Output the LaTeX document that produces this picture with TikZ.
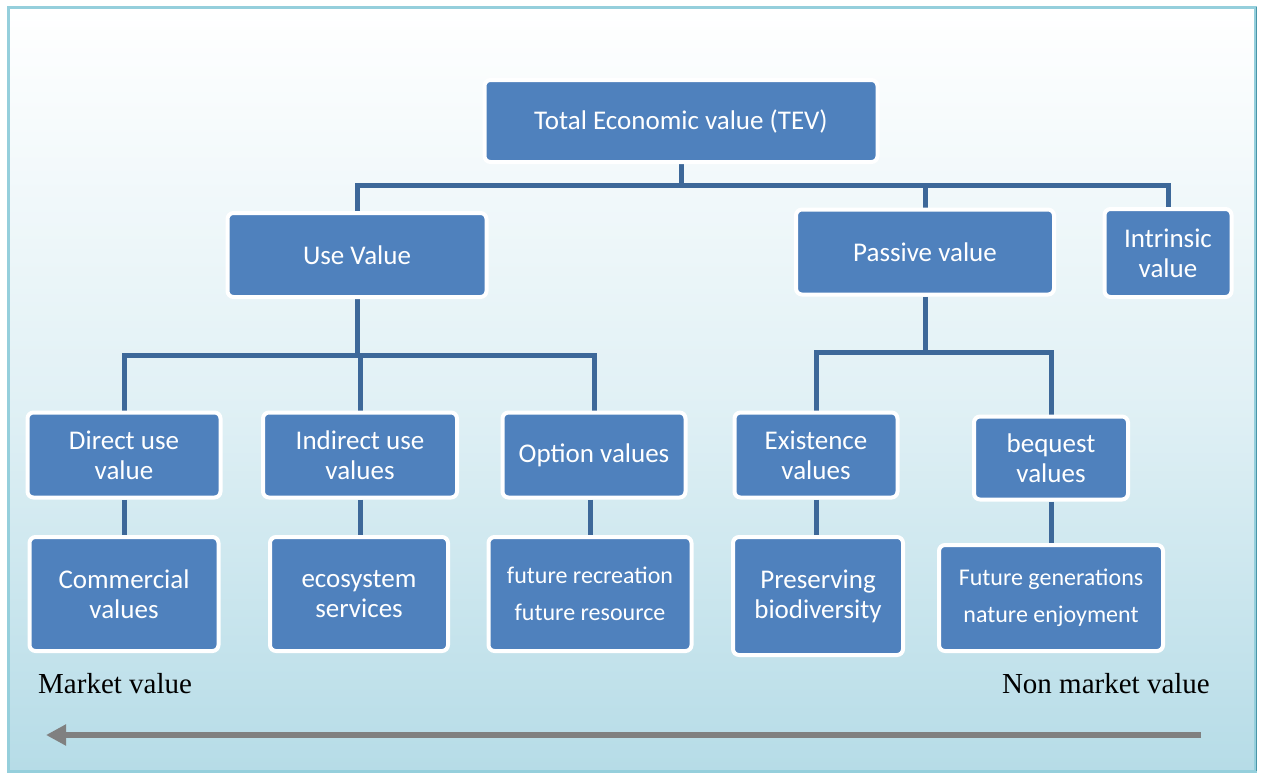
\documentclass[tikz,border=0pt]{standalone}
\usepackage{fontspec}
\setmainfont{Liberation Serif}
\newfontfamily\boxfont{Carlito}
\usetikzlibrary{arrows.meta}
\definecolor{boxblue}{HTML}{4F81BD}
\definecolor{linkblue}{HTML}{3D6899}
\definecolor{frameblue}{HTML}{95CFDC}
\definecolor{frameedge}{HTML}{4A95A8}
\definecolor{skyend}{HTML}{B6DCE7}
\definecolor{arrowgray}{HTML}{808080}
\pgfdeclarelayer{bg}
\pgfdeclarelayer{links}
\pgfsetlayers{bg,links,main}
\tikzset{
  valbox/.style={rectangle, rounded corners=6pt, fill=boxblue, draw=white,
    line width=4pt, text=white, align=center, inner sep=0pt,
    font=\boxfont\fontsize{27}{30}\selectfont},
  smallbox/.style={valbox, font=\boxfont\fontsize{24}{37}\selectfont},
  link/.style={draw=linkblue, line width=5pt},
  sidelabel/.style={font=\fontsize{29}{33}\selectfont, text=black, inner sep=0pt}
}
\begin{document}
\begin{tikzpicture}[x=1pt,y=-1pt]
\useasboundingbox (0,0) rectangle (1261,774);

% value boxes
\node[valbox, minimum width=393pt, minimum height=82pt] (tev) at (681,121) {Total Economic value (TEV)};
\node[valbox, minimum width=259pt, minimum height=84pt] (use) at (357,255) {Use Value};
\node[valbox, minimum width=258pt, minimum height=85pt] (pas) at (925,252) {Passive value};
\node[valbox, minimum width=127pt, minimum height=88pt] (intr) at (1168,253) {Intrinsic\\value};

\node[valbox, minimum width=193pt, minimum height=85pt] (dir) at (124,455) {Direct use\\value};
\node[valbox, minimum width=194pt, minimum height=85pt] (ind) at (360,455) {Indirect use\\values};
\node[valbox, minimum width=183pt, minimum height=85pt] (opt) at (594,455) {Option values};
\node[valbox, minimum width=163pt, minimum height=85pt] (exi) at (816,455) {Existence\\values};
\node[valbox, minimum width=154pt, minimum height=83pt] (beq) at (1051,458) {bequest\\values};

\node[valbox, minimum width=189pt, minimum height=114pt] (com) at (124,594) {Commercial\\values};
\node[valbox, minimum width=178pt, minimum height=114pt] (eco) at (359,594) {ecosystem\\services};
\node[smallbox, minimum width=203pt, minimum height=114pt] (fut) at (590,594) {future recreation\\future resource};
\node[valbox, minimum width=170pt, minimum height=118pt] (pre) at (818,596) {Preserving\\biodiversity};
\node[smallbox, minimum width=224pt, minimum height=106pt] (gen) at (1051,598) {Future generations\\nature enjoyment};

% market / non-market scale
\node[sidelabel, anchor=base west] (mkt) at (38,693) {Market value};
\node[sidelabel, anchor=base east] (nmkt) at (1210,693) {Non market value};
\coordinate (scaleR) at (1201,735);
\coordinate (scaleL) at (46,735);
\draw[draw=arrowgray, line width=6pt, -{Triangle[length=20pt,width=20pt]}] (scaleR) -- (scaleL);

% tree connectors
\begin{pgfonlayer}{links}
\coordinate (busA) at (681,185);
\coordinate (busB) at (357,355);
\coordinate (busC) at (925,352);
\draw[link] (tev.south) -- (busA);
\draw[link] (use.north) |- (busA) -| (intr.north);
\draw[link] (pas.north) -- (pas.north |- busA);
\draw[link] (use.south) -- (busB);
\draw[link] (dir.north) |- (busB) -| (opt.north);
\draw[link] (ind.north) -- (ind.north |- busB);
\draw[link] (pas.south) -- (busC);
\draw[link] (exi.north) |- (busC) -| (beq.north);
\draw[link] (dir.south) -- (com.north);
\draw[link] (ind.south) -- (ind.south |- eco.north);
\draw[link] (opt.south -| fut.north) -- (fut.north);
\draw[link] (exi.south) -- (exi.south |- pre.north);
\draw[link] (beq.south) -- (gen.north);
\end{pgfonlayer}

% panel background and frame
\begin{pgfonlayer}{bg}
\fill[white] (0,0) rectangle (1261,774);
\shade[top color=white, bottom color=skyend, middle color=skyend!40!white] (8,7) rectangle (1255,771);
\draw[draw=frameblue, line width=3pt] (8,7) rectangle (1255,771);
\draw[draw=frameedge, line width=1.2pt] (1256.5,7) -- (1256.5,771);
\end{pgfonlayer}
\end{tikzpicture}
\end{document}
